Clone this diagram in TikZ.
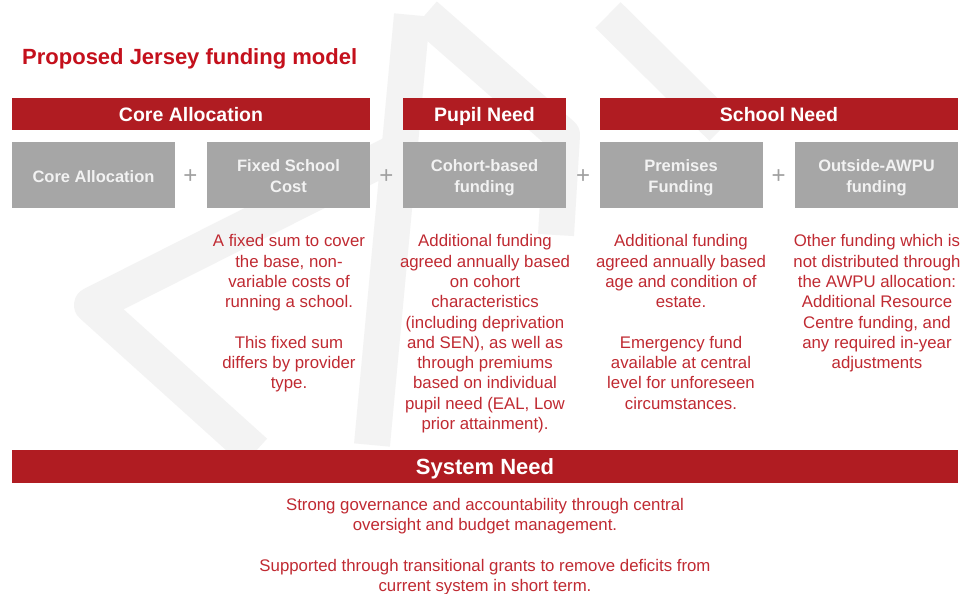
\documentclass[tikz,border=0pt]{standalone}
\usepackage{fontspec}
\setmainfont{Liberation Sans}
\definecolor{barred}{HTML}{B01C22}
\definecolor{titlered}{HTML}{C4101C}
\definecolor{textred}{HTML}{C02A32}
\definecolor{boxgray}{HTML}{A6A6A6}
\definecolor{boxtext}{HTML}{F2F2F2}
\definecolor{plusgray}{HTML}{A0A0A0}
\definecolor{wmark}{HTML}{F3F3F3}
\newcommand\bxtop{\rule{0pt}{18.5pt}}
\newcommand\bxbot{\rule[-4pt]{0pt}{4pt}}
\tikzset{
  redbar/.style={fill=barred, text=white, inner sep=0pt, minimum height=32pt,
    text height=18pt, text depth=4pt,
    font={\fontsize{19.5}{22}\selectfont\bfseries}},
  graybox/.style={fill=boxgray, text=boxtext, inner sep=0pt, minimum height=66pt,
    minimum width=163pt, align=center,
    font={\fontsize{16.5}{21}\selectfont\bfseries}},
  plussign/.style={text=plusgray, inner sep=0pt,
    font={\fontsize{24}{24}\selectfont}},
  desc/.style={text=textred, inner sep=0pt, anchor=north, align=center,
    font={\fontsize{16.8}{20.3}\selectfont}},
  wm/.style={draw=wmark, line width=36pt, line join=round}
}
\begin{document}
\begin{tikzpicture}[x=1pt,y=-1pt]
\useasboundingbox (0,0) rectangle (966,594);
\fill[white] (0,0) rectangle (966,594);
% watermark
\draw[wm] (400,150) -- (92,305) -- (255,452);
\draw[wm] (412,15) -- (372,445);
\draw[wm] (425,15) -- (562,135) -- (556,235);
\draw[wm] (608,15) -- (722,128);
% title
\node[text=titlered, anchor=base west, inner sep=0pt,
  font={\fontsize{22}{26}\selectfont\bfseries}] (title) at (22,64) {Proposed Jersey funding model};
% header bars
\node[redbar, minimum width=358pt] (hcore) at (191,114) {Core Allocation};
\node[redbar, minimum width=163pt] (hpupil) at (484.5,114) {Pupil Need};
\node[redbar, minimum width=358pt] (hschool) at (779,114) {School Need};
% gray boxes
\node[graybox] (b1) at (93.5,175) {\bxtop Core Allocation\bxbot};
\node[graybox] (b2) at (288.5,175) {\bxtop Fixed School\\Cost\bxbot};
\node[graybox] (b3) at (484.5,175) {\bxtop Cohort-based\\funding\bxbot};
\node[graybox] (b4) at (681,175) {\bxtop Premises\\Funding\bxbot};
\node[graybox] (b5) at (876.5,175) {\bxtop Outside-AWPU\\funding\bxbot};
% plus signs
\node[plussign] (p1) at (190.5,176.5) {+};
\node[plussign] (p2) at (386.5,176.5) {+};
\node[plussign] (p3) at (583,176.5) {+};
\node[plussign] (p4) at (778.5,176.5) {+};
% descriptions
\node[desc] (d2) at (289,234.5) {A fixed sum to cover\\the base, non-\\variable costs of\\running a school.\\[20.3pt]This fixed sum\\differs by provider\\type.};
\node[desc] (d3) at (485,234.5) {Additional funding\\agreed annually based\\on cohort\\characteristics\\(including deprivation\\and SEN), as well as\\through premiums\\based on individual\\pupil need (EAL, Low\\prior attainment).};
\node[desc] (d4) at (681,234.5) {Additional funding\\agreed annually based\\age and condition of\\estate.\\[20.3pt]Emergency fund\\available at central\\level for unforeseen\\circumstances.};
\node[desc] (d5) at (877,234.5) {Other funding which is\\not distributed through\\the AWPU allocation:\\Additional Resource\\Centre funding, and\\any required in-year\\adjustments};
% system need
\node[redbar, minimum width=946pt, minimum height=33pt, text height=20pt, text depth=4pt,
  font={\fontsize{22}{24}\selectfont\bfseries}] (hsys) at (485,466.5) {System Need};
\node[desc] (dsys) at (485,498) {Strong governance and accountability through central\\oversight and budget management.\\[20.3pt]Supported through transitional grants to remove deficits from\\current system in short term.};
\end{tikzpicture}
\end{document}
